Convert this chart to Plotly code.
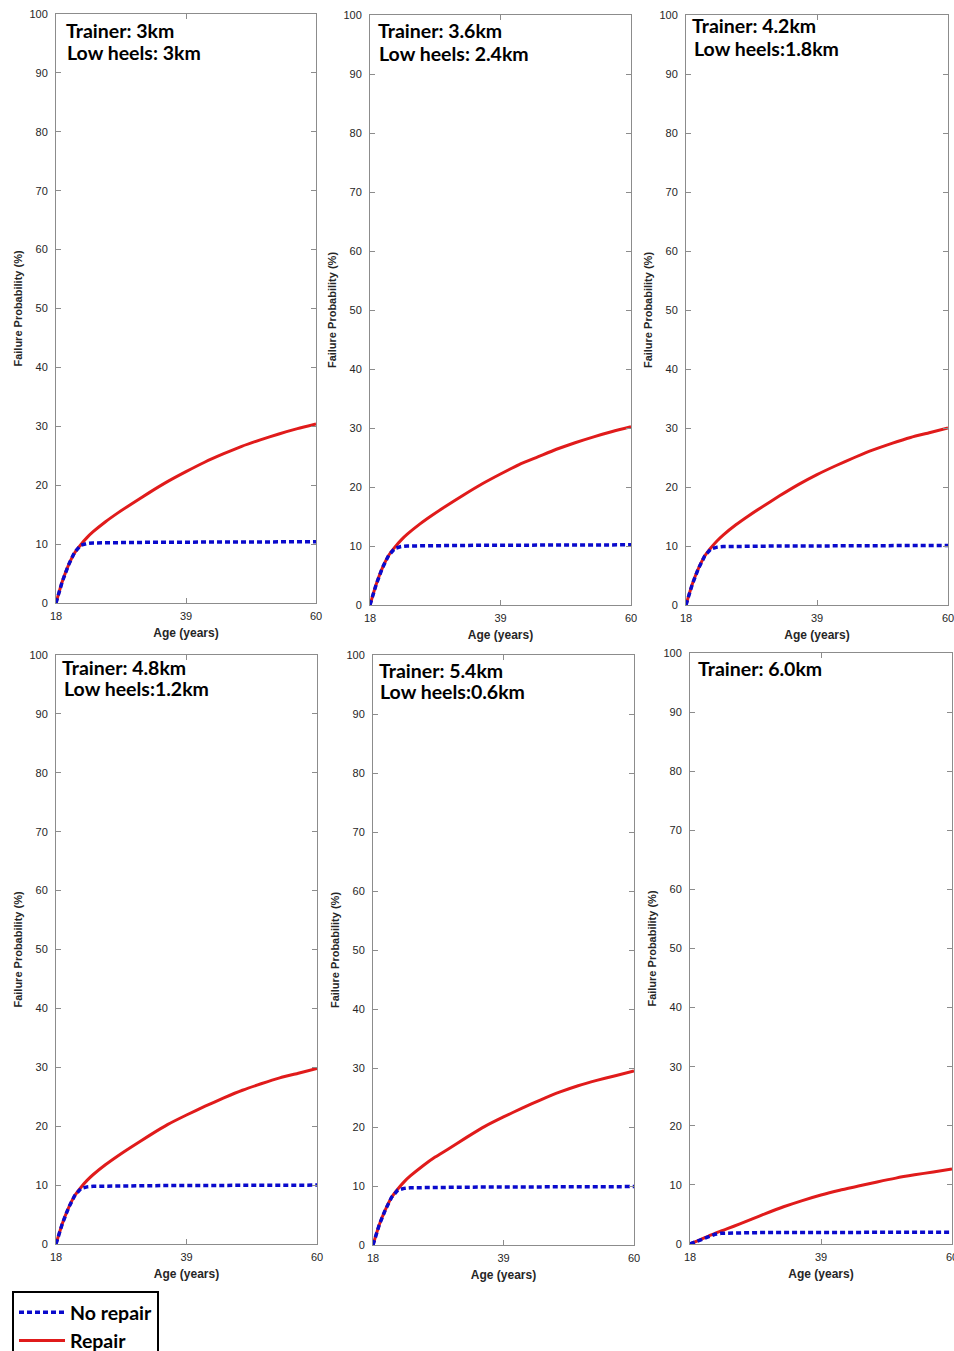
import plotly.graph_objects as go

W, H = 954, 1351

ages = [18, 19, 20, 21, 22, 23, 24, 26, 28, 30, 33, 36, 39, 42, 45, 48, 51, 54, 57, 60]

repair_1 = [0, 3.6, 6.4, 8.5, 9.9, 11.1, 12.1, 13.8, 15.3, 16.7, 18.7, 20.6, 22.3, 23.9, 25.3, 26.6, 27.7, 28.7, 29.6, 30.4]
norepair_1 = [0, 3.6, 6.4, 8.6, 9.8, 10.1, 10.2, 10.25, 10.3, 10.3, 10.3, 10.32, 10.33, 10.35, 10.36, 10.37, 10.38, 10.39, 10.4, 10.4]
repair_2 = [0, 3.5, 6.3, 8.4, 9.8, 11.0, 12.0, 13.7, 15.2, 16.6, 18.6, 20.5, 22.2, 23.8, 25.1, 26.4, 27.5, 28.5, 29.4, 30.2]
norepair_2 = [0, 3.5, 6.3, 8.4, 9.6, 9.9, 10.0, 10.05, 10.1, 10.1, 10.1, 10.12, 10.13, 10.15, 10.16, 10.17, 10.18, 10.19, 10.2, 10.2]
repair_3 = [0, 3.5, 6.2, 8.3, 9.7, 10.9, 11.9, 13.6, 15.1, 16.5, 18.5, 20.4, 22.1, 23.6, 25.0, 26.3, 27.4, 28.4, 29.2, 30.0]
norepair_3 = [0, 3.5, 6.2, 8.3, 9.5, 9.8, 9.9, 9.95, 10.0, 10.0, 10.0, 10.0, 10.02, 10.03, 10.04, 10.05, 10.06, 10.07, 10.08, 10.1]
repair_4 = [0, 3.4, 6.1, 8.2, 9.6, 10.8, 11.8, 13.5, 15.0, 16.4, 18.4, 20.3, 21.9, 23.4, 24.8, 26.1, 27.2, 28.2, 29.0, 29.8]
norepair_4 = [0, 3.4, 6.1, 8.2, 9.4, 9.7, 9.8, 9.85, 9.9, 9.9, 9.9, 9.92, 9.93, 9.94, 9.95, 9.96, 9.97, 9.98, 9.99, 10.0]
repair_5 = [0, 3.4, 6.0, 8.1, 9.5, 10.7, 11.7, 13.4, 14.9, 16.2, 18.2, 20.1, 21.7, 23.2, 24.6, 25.9, 27.0, 27.9, 28.7, 29.5]
norepair_5 = [0, 3.4, 6.0, 8.1, 9.3, 9.6, 9.7, 9.75, 9.8, 9.8, 9.8, 9.82, 9.83, 9.84, 9.85, 9.86, 9.87, 9.88, 9.89, 9.9]
repair_6 = [0, 0.45, 0.9, 1.35, 1.8, 2.2, 2.6, 3.4, 4.25, 5.1, 6.3, 7.35, 8.3, 9.1, 9.8, 10.5, 11.15, 11.7, 12.2, 12.7]
norepair_6 = [0, 0.45, 0.9, 1.3, 1.65, 1.8, 1.85, 1.9, 1.92, 1.93, 1.95, 1.96, 1.97, 1.98, 1.99, 2.0, 2.0, 2.0, 2.0, 2.0]

repair = [repair_1, repair_2, repair_3, repair_4, repair_5, repair_6]
norepair = [norepair_1, norepair_2, norepair_3, norepair_4, norepair_5, norepair_6]

panel_text = [
    ["Trainer: 3km", "Low heels: 3km"],
    ["Trainer: 3.6km", "Low heels: 2.4km"],
    ["Trainer: 4.2km", "Low heels:1.8km"],
    ["Trainer: 4.8km", "Low heels:1.2km"],
    ["Trainer: 5.4km", "Low heels:0.6km"],
    ["Trainer: 6.0km"],
]

x_ticks = [18, 39, 60]
y_ticks = [0, 10, 20, 30, 40, 50, 60, 70, 80, 90, 100]

# panel boxes in pixels: x0, x1, ytop, ybottom
boxes = [
    (56, 316, 14, 603),
    (370, 631, 15, 605),
    (686, 948, 15, 605),
    (56, 317, 655, 1244),
    (373, 634, 655, 1245),
    (690, 952, 653, 1244),
]
text_pos = [
    [(64, 30), (65, 52)],
    [(376, 30), (377, 53)],
    [(690, 25), (692, 48)],
    [(60, 667), (62, 688)],
    [(377, 670), (378, 691)],
    [(696, 668)],
]

RED = "#E01B1B"
BLUE = "#0A0ACC"
AXC = "#8C8C8C"

fig = go.Figure()
layout = dict(
    width=W, height=H, margin=dict(l=0, r=0, t=0, b=0, autoexpand=False),
    paper_bgcolor="white", plot_bgcolor="white",
    font=dict(family="Liberation Sans, Arial", color="#262626"),
)
annotations = []
for i in range(6):
    k = i + 1
    xa = "x" if k == 1 else f"x{k}"
    ya = "y" if k == 1 else f"y{k}"
    fig.add_trace(go.Scatter(
        x=ages, y=repair[i], xaxis=xa, yaxis=ya, mode="lines",
        line=dict(color=RED, width=3, shape="spline", smoothing=0.6),
        name="<b>Repair</b>", legendgroup="r", showlegend=(i == 0), legendrank=2,
    ))
    fig.add_trace(go.Scatter(
        x=ages, y=norepair[i], xaxis=xa, yaxis=ya, mode="lines",
        line=dict(color=BLUE, width=3.5, dash="5px,3px"),
        name="<b>No repair</b>", legendgroup="n", showlegend=(i == 0), legendrank=1,
    ))
    x0, x1, yt, yb = boxes[i]
    axkw = dict(showgrid=False, zeroline=False, showline=True, linecolor=AXC,
                linewidth=1, mirror="ticks", ticks="inside", ticklen=5,
                tickcolor=AXC, automargin=False, ticklabeloverflow="allow",
                tickfont=dict(size=11, color="#262626"))
    layout["xaxis" if k == 1 else f"xaxis{k}"] = dict(
        domain=[x0 / W, x1 / W], anchor=ya, range=[18, 60],
        tickvals=x_ticks, ticklabelstandoff=3,
        title=dict(text="<b>Age (years)</b>", font=dict(size=12, color="#262626"), standoff=7),
        **axkw)
    layout["yaxis" if k == 1 else f"yaxis{k}"] = dict(
        domain=[1 - yb / H, 1 - yt / H], anchor=xa, range=[0, 100],
        tickvals=y_ticks, ticklabelstandoff=5,
        title=dict(text="<b>Failure Probability (%)</b>", font=dict(size=11, color="#262626"), standoff=4),
        **axkw)
    for txt, (px, py) in zip(panel_text[i], text_pos[i]):
        annotations.append(dict(
            text=f"<b>{txt}</b>", xref="paper", yref="paper",
            x=px / W, y=1 - py / H, xanchor="left", yanchor="middle",
            showarrow=False, font=dict(family="Lato, Open Sans", size=19.5, color="black"),
        ))

layout["annotations"] = annotations
layout["legend"] = dict(
    x=12 / W, y=1 - 1291 / H, xanchor="left", yanchor="top",
    bordercolor="black", borderwidth=2, bgcolor="white",
    font=dict(family="Lato, Open Sans", size=19.5, color="black"),
    traceorder="normal", itemwidth=46,
)
fig.update_layout(**layout)
fig.write_html(
    "out.html",
    config={"displayModeBar": False},
    post_script="document.body.style.margin='0px';document.body.style.overflow='hidden';",
)
